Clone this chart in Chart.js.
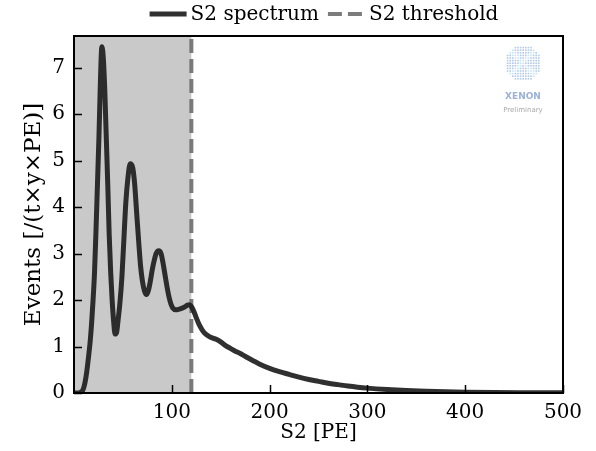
<!DOCTYPE html>
<html lang="en">
<head>
    <meta charset="UTF-8">
    <title>S2 spectrum</title>
    <script src="https://cdn.jsdelivr.net/npm/chart.js"></script>
<style>
    body { margin: 0; background: #fff; }
    #wrap { width: 596px; height: 451px; }
</style>
</head>
<body>
<div id="wrap"><canvas id="myChart"></canvas></div>

<script>
    // S2 [PE] positions and event rates
    const s2Values = [0, 4, 7, 9, 11, 13, 15, 16.5, 18, 19.5, 21, 22.5, 24, 25.5, 27, 28.5, 30, 31.5, 33, 34.5, 36, 37.5,
        39, 40.5, 42, 43.5, 45, 47, 49, 51, 53, 55, 57.5, 60, 62, 64, 66, 68, 70, 72, 74, 76, 78, 80, 82, 84, 86.5,
        89, 91, 93, 95, 97, 99, 101, 104, 107, 110, 113, 116, 118, 120, 122.5, 125, 128, 131, 134, 138, 142, 146,
        150, 155, 160, 165, 170, 175, 180, 190, 200, 210, 220, 230, 240, 250, 260, 270, 280, 290, 300, 320, 340,
        360, 380, 400, 430, 460, 500];
    const eventRates = [0, 0, 0.02, 0.06, 0.2, 0.45, 0.8, 1.1, 1.5, 2.0, 2.6, 3.5, 4.5, 5.5, 6.7, 7.45, 7.2, 6.5, 5.5, 4.5, 3.4, 2.6,
        2.0, 1.55, 1.27, 1.3, 1.55, 1.95, 2.5, 3.3, 4.1, 4.6, 4.93, 4.85, 4.5, 3.9, 3.3, 2.75, 2.4, 2.2, 2.12, 2.2, 2.4, 2.65, 2.85, 3.0, 3.06,
        3.0, 2.8, 2.55, 2.3, 2.08, 1.92, 1.83, 1.79, 1.8, 1.82, 1.85, 1.89, 1.9, 1.86, 1.76, 1.62, 1.47, 1.36, 1.28, 1.22, 1.18, 1.15,
        1.1, 1.02, 0.96, 0.9, 0.85, 0.79, 0.73, 0.62, 0.53, 0.46, 0.4, 0.34, 0.29, 0.25, 0.21, 0.18, 0.15, 0.125, 0.105, 0.075, 0.052,
        0.036, 0.025, 0.017, 0.01, 0.006, 0.003];
    const thresholdS2 = 120;
    const xTicks = [100, 200, 300, 400, 500];
    const yTicks = [0, 1, 2, 3, 4, 5, 6, 7];
    const yMax = 7.68;

    const serif = "'DejaVu Serif', serif";
    const fontSize = 20;

    // grey band below the threshold
    const shadePlugin = {
        id: 'shade',
        beforeDatasetsDraw(chart) {
            const {ctx, chartArea, scales} = chart;
            const x0 = scales.x.getPixelForValue(0);
            const x1 = scales.x.getPixelForValue(thresholdS2);
            ctx.save();
            ctx.fillStyle = '#c9c9c9';
            ctx.fillRect(x0, chartArea.top, x1 - x0, chartArea.bottom - chartArea.top);
            ctx.restore();
        }
    };

    // legend drawn by hand so the dashed sample shows
    const legendPlugin = {
        id: 'handLegend',
        afterDraw(chart) {
            const ctx = chart.ctx;
            const sample = 37, gap = 4, itemGap = 9, y = 14;
            ctx.save();
            ctx.font = fontSize + 'px ' + serif;
            const items = chart.data.datasets.map(ds => ({ds: ds, w: sample + gap + ctx.measureText(ds.label).width}));
            const total = items.reduce((s, it) => s + it.w, 0) + itemGap * (items.length - 1);
            let x = 324 - total / 2;
            items.forEach(it => {
                ctx.strokeStyle = it.ds.borderColor;
                ctx.lineWidth = it.ds.borderWidth;
                ctx.setLineDash(it.ds.borderDash || []);
                ctx.beginPath();
                ctx.moveTo(x, y);
                ctx.lineTo(x + sample, y);
                ctx.stroke();
                ctx.setLineDash([]);
                ctx.fillStyle = '#000';
                ctx.textBaseline = 'middle';
                ctx.fillText(it.ds.label, x + sample + gap, y + 1);
                x += it.w + itemGap;
            });
            ctx.restore();
        }
    };

    // box frame + inward ticks + logo
    const framePlugin = {
        id: 'frame',
        afterDraw(chart) {
            const {ctx, chartArea, scales} = chart;
            ctx.save();
            ctx.strokeStyle = '#000';
            ctx.lineWidth = 1.5;
            ctx.beginPath();
            scales.y.ticks.forEach(t => {
                const y = Math.round(scales.y.getPixelForValue(t.value)) + 0.5;
                ctx.moveTo(chartArea.left, y);
                ctx.lineTo(chartArea.left + 8, y);
            });
            scales.x.ticks.forEach(t => {
                const x = Math.round(scales.x.getPixelForValue(t.value)) + 0.5;
                ctx.moveTo(x, chartArea.bottom);
                ctx.lineTo(x, chartArea.bottom - 8);
            });
            ctx.stroke();
            ctx.lineWidth = 2;
            ctx.strokeRect(chartArea.left, chartArea.top, chartArea.right - chartArea.left, chartArea.bottom - chartArea.top);

            // XENON logo
            const cx = chartArea.right - 40, cy = chartArea.top + 27, r = 18;
            for (let i = -r; i <= r; i += 2.6) {
                for (let j = -r; j <= r; j += 2.6) {
                    if (i * i + j * j > r * r) continue;
                    const onX = Math.abs(Math.abs(i) - Math.abs(j)) < 2.6;
                    ctx.fillStyle = onX ? 'rgba(195,228,242,0.95)' : 'rgba(160,188,228,0.8)';
                    ctx.fillRect(cx + i - 0.8, cy + j - 0.8, 1.6, 1.6);
                }
            }
            ctx.textAlign = 'center';
            ctx.textBaseline = 'middle';
            ctx.fillStyle = '#9cb1d8';
            ctx.font = "bold 9px 'DejaVu Sans', sans-serif";
            ctx.fillText('XENON', cx, cy + 34);
            ctx.fillStyle = '#a8a8a8';
            ctx.font = "7px 'DejaVu Sans', sans-serif";
            ctx.fillText('Preliminary', cx, cy + 47);
            ctx.restore();
        }
    };

    const ctx = document.getElementById('myChart').getContext('2d');
    const s2Chart = new Chart(ctx, {
        type: 'line',
        data: {
            datasets: [{
                label: 'S2 spectrum',
                data: s2Values.map((x, i) => ({x: x, y: eventRates[i]})),
                borderColor: 'rgba(30,30,30,0.92)',
                borderWidth: 5,
                pointRadius: 0,
                cubicInterpolationMode: 'monotone',
                order: 0
            }, {
                label: 'S2 threshold',
                data: [{x: thresholdS2, y: 0}, {x: thresholdS2, y: yMax}],
                borderColor: 'rgba(110,110,110,0.9)',
                borderWidth: 4,
                borderDash: [14, 6],
                pointRadius: 0,
                order: 1
            }]
        },
        options: {
            responsive: true,
            maintainAspectRatio: false,
            animation: false,
            layout: { padding: { left: 20, right: 33, top: 36, bottom: 4 } },
            plugins: {
                tooltip: { enabled: false },
                legend: { display: false }
            },
            scales: {
                x: {
                    type: 'linear',
                    min: 0,
                    max: 500,
                    afterBuildTicks: s => { s.ticks = xTicks.map(v => ({value: v})); },
                    afterFit: s => { s.height = 54; },
                    grid: { display: false, drawTicks: false },
                    border: { display: false },
                    ticks: { color: '#000', padding: 8, font: { family: serif, size: fontSize } },
                    title: { display: true, text: 'S2 [PE]', color: '#000', padding: { top: 0, bottom: 2 }, font: { family: serif, size: fontSize } }
                },
                y: {
                    min: 0,
                    max: yMax,
                    afterBuildTicks: s => { s.ticks = yTicks.map(v => ({value: v})); },
                    afterFit: s => { s.width = 54; },
                    grid: { display: false, drawTicks: false },
                    border: { display: false },
                    ticks: { color: '#000', padding: 9, font: { family: serif, size: fontSize } },
                    title: { display: true, text: 'Events [/(t×y×PE)]', color: '#000', padding: 0, font: { family: serif, size: 23 } }
                }
            }
        },
        plugins: [shadePlugin, framePlugin, legendPlugin]
    });
</script>

</body>
</html>
